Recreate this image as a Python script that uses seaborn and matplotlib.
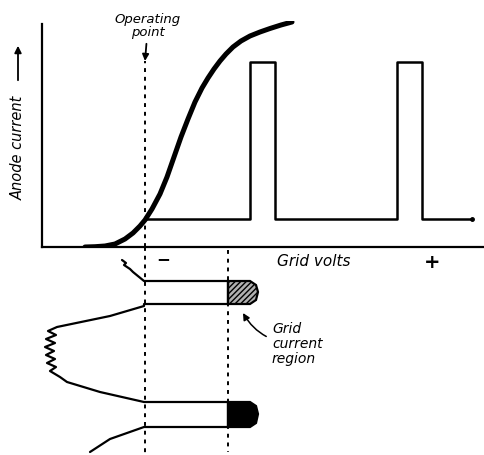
import numpy as np
import matplotlib
matplotlib.use("Agg")
import matplotlib.pyplot as plt
import seaborn as sns

# Valve characteristic: grid volts (arbitrary units) vs anode current
curve_v = [85, 95, 105, 115, 125, 133, 140, 145, 152, 160, 167, 174, 181, 188, 195,
           202, 208, 214, 220, 226, 233, 241, 250, 260, 270, 281, 292]
curve_i = [0, 0.3, 1, 3, 8, 14, 21, 27, 38, 53, 70, 90, 110, 128, 145,
           159, 169, 178, 186, 193, 200, 206, 211, 215, 218.5, 222, 225]

# Anode current pulses produced by the grid swing
pulse_v = [145, 250, 250, 275, 275, 397, 397, 422, 422, 472]
pulse_i = [28, 28, 185, 185, 28, 28, 185, 185, 28, 28]

op_point = 145      # operating bias
grid_zero = 228     # start of grid current region

# Grid voltage waveform against time (time runs downward)
wave_v = [122, 126, 124, 130, 133, 144, 228, 228, 144,
          144, 110, 57, 48, 56, 46, 55, 45, 54, 46, 55, 47, 56, 50, 60, 67, 100, 144,
          228, 228, 144, 144, 110, 90]
wave_t = [13, 16, 18, 22, 25, 34, 34, 57, 57,
          59, 69, 80, 84, 88, 92, 96, 100, 104, 108, 112, 116, 120, 124, 130, 135, 145, 155,
          155, 180, 180, 180, 192, 205]

# rounded caps in grid current region
cap1_v = [228, 250, 256, 258, 256, 250, 228]
cap1_t = [34, 34, 38, 45, 53, 57, 57]
cap2_v = [228, 250, 256, 258, 256, 250, 228]
cap2_t = [155, 155, 159, 167, 176, 180, 180]

sns.set_style("white")
plt.rcParams["font.family"] = ["DejaVu Sans"]
plt.rcParams["text.color"] = "black"

W, H = 485, 456
fig = plt.figure(figsize=(4.85, 4.56), dpi=100)
ax = fig.add_axes([42 / W, (H - 248) / H, (483 - 42) / W, (248 - 22) / H])
ax2 = fig.add_axes([42 / W, 0, (483 - 42) / W, 208 / H], sharex=ax)

# top: characteristic
sns.lineplot(x=curve_v, y=curve_i, ax=ax, color="black", linewidth=3.6, sort=False, estimator=None)
sns.lineplot(x=pulse_v, y=pulse_i, ax=ax, color="black", linewidth=1.8, sort=False, estimator=None)
ax.plot([pulse_v[-1]], [pulse_i[-1]], "o", color="black", markersize=2.5)
ax.plot([op_point, op_point], [0, 186], color="black", linestyle=(0, (2, 2.5)), linewidth=1.4)
ax.set_xlim(42, 483)
ax.set_ylim(0, 226)
ax.set_xticks([])
ax.set_yticks([])
for s in ["top", "right"]:
    ax.spines[s].set_visible(False)
for s in ["left", "bottom"]:
    ax.spines[s].set_color("black")
    ax.spines[s].set_linewidth(1.6)
ax.spines["left"].set_bounds(0, 223)

ax.annotate("Operating\npoint", xy=(op_point, 186), xytext=(148, 222),
            ha="center", va="center", fontsize=9.5, style="italic", linespacing=0.95,
            arrowprops=dict(arrowstyle="-|>", color="black", lw=1.3, shrinkA=2, shrinkB=0),
            annotation_clip=False)

fig.text(18 / W, 1 - 148 / H, "Anode current", rotation=90, ha="center", va="center",
         fontsize=10.5, style="italic")
fig.add_artist(matplotlib.patches.FancyArrowPatch((18 / W, 1 - 84 / H), (18 / W, 1 - 44 / H),
               transform=fig.transFigure, arrowstyle="-|>", mutation_scale=10,
               color="black", lw=1.3))

# bottom: grid voltage swing
sns.lineplot(x=wave_v, y=wave_t, ax=ax2, color="black", linewidth=1.6, sort=False, estimator=None)
ax2.fill(cap1_v, cap1_t, facecolor="#b0b0b0", edgecolor="black", hatch="//////", linewidth=1.6)
ax2.fill(cap2_v, cap2_t, facecolor="black", edgecolor="black", linewidth=1.6)
ax2.plot([op_point, op_point], [0, 208], color="black", linestyle=(0, (2, 2.5)), linewidth=1.4)
ax2.plot([grid_zero, grid_zero], [3, 205], color="black", linestyle=(0, (2, 2.5)), linewidth=1.4)
ax2.set_ylim(208, 0)
ax2.axis("off")

ax2.text(314, 14, "Grid volts", ha="center", va="center", fontsize=11, style="italic")
ax2.text(163, 11, "\u2212", ha="center", va="center", fontsize=12, fontweight="bold")
ax2.text(432, 15, "+", ha="center", va="center", fontsize=14, fontweight="bold")

ax2.annotate("Grid\ncurrent\nregion", xy=(243, 66), xytext=(272, 96),
             ha="left", va="center", fontsize=10, style="italic", linespacing=1.05,
             arrowprops=dict(arrowstyle="-|>", color="black", lw=1.1,
                             connectionstyle="arc3,rad=-0.3", shrinkA=2, shrinkB=0))

fig.savefig("out.png", dpi=100)
